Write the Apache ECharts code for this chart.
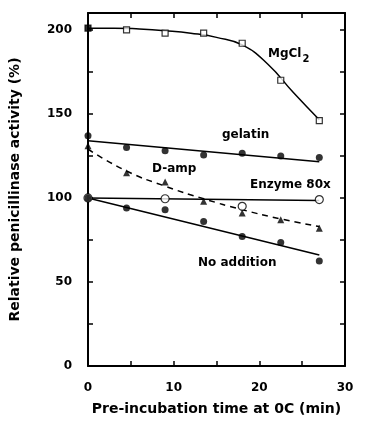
<!DOCTYPE html>
<html>
<head>
<meta charset="utf-8">
<script src="https://cdn.jsdelivr.net/npm/echarts@6/dist/echarts.min.js"></script>
<style>
  html, body { margin: 0; padding: 0; background: #fff; }
  #chart { width: 379px; height: 427px; }
</style>
</head>
<body>
<div id="chart"></div>
<script>
const times = [0, 4.5, 9, 13.5, 18, 22.5, 27];
const mgcl2 = [201, 200, 198, 198, 192, 170, 146];
const mgcl2Curve = [[0, 201], [3, 201], [6, 200.5], [9, 199.5], [12, 198], [15, 195.5], [18, 191], [21, 179.5], [24, 162.5], [27, 146.5]];
const gelatin = [137, 130, 128, 125.5, 126.5, 125, 124];
const gelatinFit = [[0, 134], [27, 121.5]];
const damp = [131, 115, 109.5, 98, 91, 87, 82];
const dampCurve = [[0, 129], [4.5, 116], [9, 107], [13.5, 99.5], [18, 93], [22.5, 87.5], [27, 83]];
const enzymeT = [0, 9, 18, 27];
const enzyme = [100, 99.5, 95, 99];
const enzymeFit = [[0, 100], [27, 98.5]];
const noAdd = [100, 94, 93, 86, 77, 73.5, 62.5];
const noAddFit = [[0, 100], [27, 66]];

const FONT = "DejaVu Sans";
const pairs = (xs, ys) => xs.map((x, i) => [x, ys[i]]);

const chart = echarts.init(document.getElementById("chart"));

const axisCommon = {
  axisLine: { show: true, onZero: false, lineStyle: { color: "#000", width: 2 } },
  axisTick: { show: true, inside: true, length: 5, lineStyle: { color: "#000", width: 1.5 } },
  splitLine: { show: false },
};

chart.setOption({
  backgroundColor: "#fff",
  animation: false,
  grid: { left: 88, right: 34, top: 13, bottom: 61 },
  xAxis: [
    {
      ...axisCommon,
      type: "value", min: 0, max: 30, interval: 5,
      name: "Pre-incubation time at 0C (min)",
      nameLocation: "middle", nameGap: 36,
      nameTextStyle: { color: "#000", fontFamily: FONT, fontWeight: "bold", fontSize: 14 },
      axisLabel: {
        color: "#000", fontFamily: FONT, fontWeight: "bold", fontSize: 12, margin: 16,
        formatter: (v) => (v % 10 === 0 ? String(v) : ""),
      },
    },
    {
      ...axisCommon,
      type: "value", min: 0, max: 30, interval: 5, position: "top",
      axisLabel: { show: false },
    },
  ],
  yAxis: [
    {
      ...axisCommon,
      type: "value", min: 0, max: 210, interval: 25,
      name: "Relative penicillinase activity (%)",
      nameLocation: "middle", nameGap: 66, nameRotate: 90,
      nameTextStyle: { color: "#000", fontFamily: FONT, fontWeight: "bold", fontSize: 14 },
      axisLabel: {
        color: "#000", fontFamily: FONT, fontWeight: "bold", fontSize: 12, margin: 16,
        showMaxLabel: false,
        formatter: (v) => (v % 50 === 0 ? String(v) : ""),
      },
    },
    {
      ...axisCommon,
      type: "value", min: 0, max: 210, interval: 25, position: "right",
      axisLabel: { show: false },
    },
  ],
  series: [
    {
      type: "line", data: mgcl2Curve, smooth: 0.5, symbol: "none",
      lineStyle: { color: "#000", width: 1.5 },
    },
    {
      type: "scatter", symbol: "rect", symbolSize: 6, z: 4,
      data: pairs(times, mgcl2).map((p, i) => ({
        value: p,
        itemStyle: i === 0 ? { color: "#000" } : undefined,
      })),
      itemStyle: { color: "#fff", borderColor: "#000", borderWidth: 1.2 },
    },
    {
      type: "scatter", data: pairs(times, gelatin), symbol: "circle", symbolSize: 7,
      itemStyle: { color: "#000" },
    },
    { type: "line", data: gelatinFit, symbol: "none", lineStyle: { color: "#000", width: 1.5 } },
    {
      type: "line", data: dampCurve, smooth: true, symbol: "none",
      lineStyle: { color: "#000", width: 1.5, type: [6, 5] },
    },
    {
      type: "scatter", data: pairs(times, damp), symbol: "triangle", symbolSize: 7,
      itemStyle: { color: "#000" },
    },
    { type: "line", data: enzymeFit, symbol: "none", lineStyle: { color: "#000", width: 1.5 } },
    {
      type: "scatter", data: pairs(enzymeT, enzyme), symbol: "circle", symbolSize: 8,
      itemStyle: { color: "#fff", borderColor: "#000", borderWidth: 1.2 }, z: 4,
    },
    { type: "line", data: noAddFit, symbol: "none", lineStyle: { color: "#000", width: 1.5 } },
    {
      type: "scatter", data: pairs(times, noAdd), symbol: "circle", symbolSize: 7,
      itemStyle: { color: "#000" }, z: 5,
    },
  ],
  graphic: [
    {
      type: "text", left: 268, top: 48,
      style: {
        text: "{a|MgCl}{b|2}", fill: "#000",
        rich: {
          a: { fontFamily: FONT, fontWeight: "bold", fontSize: 12, fill: "#000" },
          b: { fontFamily: FONT, fontWeight: "bold", fontSize: 10, fill: "#000", padding: [10, 0, 0, 1] },
        },
      },
    },
    { type: "text", left: 222, top: 129, style: { text: "gelatin", font: "bold 12px DejaVu Sans", fill: "#000" } },
    { type: "text", left: 152, top: 163, style: { text: "D-amp", font: "bold 12px DejaVu Sans", fill: "#000" } },
    { type: "text", left: 250, top: 179, style: { text: "Enzyme 80x", font: "bold 12px DejaVu Sans", fill: "#000" } },
    { type: "text", left: 198, top: 257, style: { text: "No addition", font: "bold 12px DejaVu Sans", fill: "#000" } },
  ],
});
</script>
</body>
</html>
